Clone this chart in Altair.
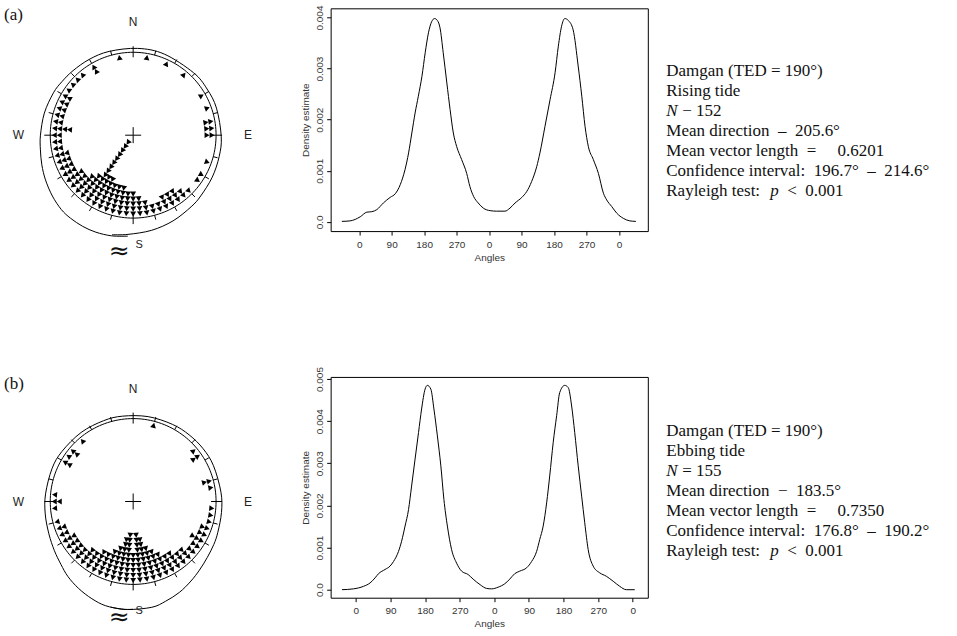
import altair as alt
import pandas as pd

# ---------------- data ----------------
# Linear density plots (angle in degrees, density estimate)
dens_angle_a = [-48, -25, 3, 21, 35, 49, 67, 86, 100, 114, 127, 137, 146, 155, 164, 174, 183, 192, 201, 209,
                217, 224, 233, 243, 252, 261, 270, 284, 298, 307, 317, 330, 344, 363, 381, 404, 418, 432, 451, 464,
                478, 492, 501, 515, 529, 543, 552, 561, 570, 580, 593, 607, 617, 626, 635, 649, 663, 677, 686, 700,
                714, 732, 750, 767]
dens_value_a = [0.00001, 0.00002, 0.0001, 0.00019, 0.0002, 0.00024, 0.00037, 0.00048, 0.00055, 0.00073,
                0.00102, 0.00135, 0.00174, 0.00213, 0.00246, 0.00285, 0.00331, 0.0037, 0.00392, 0.00398,
                0.00394, 0.0038, 0.00331, 0.00272, 0.0022, 0.00174, 0.00148, 0.00122, 0.00095, 0.00069,
                0.0005, 0.00037, 0.00027, 0.00022, 0.00021, 0.00021, 0.00027, 0.00037, 0.00048, 0.00059,
                0.00079, 0.00108, 0.00135, 0.00187, 0.00239, 0.00292, 0.00344, 0.00383, 0.00398, 0.00394,
                0.00376, 0.00305, 0.00246, 0.00187, 0.00148, 0.00122, 0.00095, 0.00056, 0.00043, 0.0003,
                0.00017, 0.00007, 0.00002, 0.00001]

dens_angle_b = [-36, -6, 20, 37, 50, 59, 76, 89, 98, 111, 119, 128, 137, 145, 154, 163, 171, 180, 186, 195,
                203, 212, 221, 229, 238, 249, 262, 275, 292, 305, 323, 340, 353, 370, 387, 400, 413, 426, 444, 457,
                470, 478, 487, 496, 504, 513, 522, 530, 543, 552, 561, 569, 578, 587, 595, 604, 617, 634, 651, 669,
                686, 703, 725]
dens_value_b = [0.0, 0.00002, 0.00008, 0.00016, 0.00028, 0.00038, 0.00048, 0.00056, 0.00067, 0.00091,
                0.00115, 0.00151, 0.0019, 0.00246, 0.0031, 0.00373, 0.00429, 0.00476, 0.00485, 0.00476,
                0.00429, 0.00365, 0.00294, 0.00214, 0.00151, 0.00095, 0.00063, 0.00044, 0.00036, 0.00025,
                0.00012, 0.00003, 0.00002, 0.00006, 0.00014, 0.00025, 0.00038, 0.00044, 0.00052, 0.00067,
                0.00091, 0.00119, 0.00151, 0.00206, 0.0027, 0.00349, 0.00413, 0.00468, 0.00485, 0.0048,
                0.00436, 0.00373, 0.00294, 0.00222, 0.00159, 0.00095, 0.00056, 0.0004, 0.00032, 0.0002,
                0.00008, 0.0, 0.0]

# Stacked circular observations: direction bin (deg clockwise from N) and count
bin_angle_a = [10, 25, 40, 60, 70, 80, 85, 90, 110, 120, 125, 135, 140, 145, 150, 155, 160, 165, 170, 175,
               180, 185, 190, 195, 200, 205, 210, 215, 220, 225, 230, 235, 240, 245, 250, 255, 260, 265, 270,
               275, 280, 285, 290, 295, 300, 305, 310, 315, 320, 330, 350]
bin_count_a = [1, 1, 1, 1, 1, 2, 2, 2, 1, 1, 1, 1, 2, 3, 3, 3, 2, 2, 3, 4,
               5, 5, 6, 6, 6, 7, 7, 15, 6, 5, 4, 4, 3, 3, 3, 3, 2, 2, 2,
               4, 2, 2, 2, 2, 2, 1, 1, 1, 1, 2, 1]
bin_angle_b = [15, 50, 55, 75, 80, 95, 100, 105, 110, 115, 120, 125, 130, 135, 140, 145, 150, 155, 160, 165,
               170, 175, 180, 185, 190, 195, 200, 205, 210, 215, 220, 225, 230, 235, 240, 245, 250, 255, 265,
               270, 275, 300, 305, 310, 320]
bin_count_b = [1, 1, 2, 2, 1, 1, 1, 1, 2, 2, 3, 2, 2, 3, 3, 4, 4, 5, 6, 7,
               9, 10, 6, 10, 9, 7, 6, 5, 5, 4, 4, 3, 3, 3, 3, 2, 2, 1, 1,
               2, 1, 2, 1, 2, 1]

x_tick_values = [0, 90, 180, 270, 360, 450, 540, 630, 720]
y_ticks_a = [0.0, 0.001, 0.002, 0.003, 0.004]
y_ticks_b = [0.0, 0.001, 0.002, 0.003, 0.004, 0.005]
circle_tick_deg = list(range(0, 360, 15))
compass_text = ["N", "E", "W"]
compass_deg = [0, 90, 270]

NB, EN = "\u00a0", "\u2002"
stats_a = ["Damgan (TED = 190°)", "Rising tide", "",
           "Mean direction" + EN + "–" + EN + "205.6°",
           "Mean vector length" + EN + "=" + EN + EN + NB + "0.6201",
           "Confidence interval:" + EN + "196.7°" + EN + "–" + EN + "214.6°",
           "Rayleigh test:"]
n_rest_a = "−" + NB + "152"
stats_b = ["Damgan (TED = 190°)", "Ebbing tide", "",
           "Mean direction" + EN + "−" + EN + "183.5°",
           "Mean vector length" + EN + "=" + EN + EN + NB + "0.7350",
           "Confidence interval:" + EN + "176.8°" + EN + "–" + EN + "190.2°",
           "Rayleigh test:"]
n_rest_b = "=" + NB + "155"
p_rest = "<" + EN + "0.001"

# ---------------- styling ----------------
SANS = "Liberation Sans"
SERIF = "Liberation Serif"
R = 83          # circle radius (px)
STEP = 5        # stacking step (px)
FS = 17         # statistics text size
LINE = 20       # statistics line spacing


def circle_panel(tag, bin_angles, bin_counts, d_ang, d_val, center_from_top, height):
    width = 312.5
    cx = 133.3
    sx = alt.Scale(domain=[-cx, width - cx], nice=False, zero=False)
    sy = alt.Scale(domain=[center_from_top - height, center_from_top], nice=False, zero=False)

    def X(f):
        return alt.X(f + ":Q", scale=sx, axis=None)

    def Y(f):
        return alt.Y(f + ":Q", scale=sy, axis=None)

    rad = "datum.a*PI/180"

    ring = (alt.Chart(alt.sequence(0, 362, 2, as_="a"))
            .transform_calculate(x=f"{R}*sin({rad})")
            .transform_calculate(y=f"{R}*cos({rad})")
            .mark_line(color="black", strokeWidth=1)
            .encode(x=X("x"), y=Y("y"), order="a:Q"))

    ticks = (alt.Chart(pd.DataFrame({"a": circle_tick_deg}))
             .transform_calculate(r1="datum.a % 90 == 0 ? 78 : 83")
             .transform_calculate(r2="datum.a % 90 == 0 ? 89 : 87.5")
             .transform_calculate(x=f"datum.r1*sin({rad})")
             .transform_calculate(y=f"datum.r1*cos({rad})")
             .transform_calculate(x2=f"datum.r2*sin({rad})")
             .transform_calculate(y2=f"datum.r2*cos({rad})")
             .mark_rule(color="black", strokeWidth=1)
             .encode(x=X("x"), y=Y("y"), x2="x2:Q", y2="y2:Q"))

    cross = (alt.Chart(pd.DataFrame({"a": [0, 90, 180, 270]}))
             .transform_calculate(x="0")
             .transform_calculate(y="0")
             .transform_calculate(x2=f"8*sin({rad})")
             .transform_calculate(y2=f"8*cos({rad})")
             .mark_rule(color="black", strokeWidth=1)
             .encode(x=X("x"), y=Y("y"), x2="x2:Q", y2="y2:Q"))

    rows = [{"a": a, "k": k} for a, c in zip(bin_angles, bin_counts) for k in range(c)]
    pts = (alt.Chart(pd.DataFrame(rows))
           .transform_calculate(r=f"79 - {STEP}*datum.k")
           .transform_calculate(x=f"datum.r*sin({rad})")
           .transform_calculate(y=f"datum.r*cos({rad})")
           .mark_point(shape="triangle-up", filled=True, color="black", size=34, opacity=1)
           .encode(x=X("x"), y=Y("y"), angle=alt.Angle("a:Q", scale=None)))

    dens = (alt.Chart(pd.DataFrame({"a": d_ang, "density": d_val}))
            .transform_filter("datum.a >= 180 && datum.a <= 560")
            .transform_calculate(r="86 + 4600*datum.density")
            .transform_calculate(x=f"datum.r*sin({rad})")
            .transform_calculate(y=f"datum.r*cos({rad})")
            .mark_line(color="black", strokeWidth=1, interpolate="cardinal")
            .encode(x=X("x"), y=Y("y"), order="a:Q"))

    labs = (alt.Chart(pd.DataFrame({"t": compass_text, "a": compass_deg}))
            .transform_calculate(x=f"115*sin({rad})")
            .transform_calculate(y=f"113*cos({rad})")
            .mark_text(font=SANS, fontSize=12, color="#222")
            .encode(x=X("x"), y=Y("y"), text="t:N"))

    s_lab = (alt.Chart(pd.DataFrame({"t": ["S"], "a": [180]}))
             .transform_calculate(x=f"110*sin({rad})")
             .transform_calculate(y=f"110*cos({rad})")
             .mark_text(font=SANS, fontSize=11, color="#222", dx=6)
             .encode(x=X("x"), y=Y("y"), text="t:N"))
    wave = (alt.Chart(pd.DataFrame({"t": ["≈"], "a": [180]}))
            .transform_calculate(x=f"116*sin({rad})")
            .transform_calculate(y=f"116*cos({rad})")
            .mark_text(font="DejaVu Sans", fontSize=25, color="#111", dx=-14)
            .encode(x=X("x"), y=Y("y"), text="t:N"))

    tag_t = (alt.Chart(pd.DataFrame({"t": [tag]}))
             .mark_text(font=SERIF, fontSize=17, align="left", baseline="middle", color="#111")
             .encode(x=alt.value(4), y=alt.value(7), text="t:N"))

    return alt.layer(dens, ring, ticks, cross, pts, labs, s_lab, wave, tag_t).properties(
        width=width, height=height)


def density_panel(d_ang, d_val, xdom, ydom, yticks, width, height):
    df = pd.DataFrame({"angle": d_ang, "density": d_val})
    xaxis = alt.Axis(values=x_tick_values, labelExpr="'' + (datum.value % 360)", title="Angles",
                     domain=False, grid=False, tickSize=4, tickColor="black", labelFont=SANS,
                     labelFontSize=10, labelColor="#333", labelPadding=4, titleFont=SANS,
                     titleFontSize=10, titleFontWeight="normal", titleColor="#333", titlePadding=3,
                     labelFlush=False, labelOverlap=False)
    yaxis = alt.Axis(values=yticks,
                     labelExpr="datum.value == 0 ? '0.0' : format(datum.value, '.3f')",
                     title="Density estimate", domain=False, grid=False, tickSize=4, tickColor="black",
                     labelFont=SANS, labelFontSize=10, labelColor="#333", labelPadding=2,
                     labelAngle=270, labelAlign="center", labelBaseline="bottom",
                     titleFont=SANS, titleFontSize=10, titleFontWeight="normal", titleColor="#333",
                     titlePadding=4, labelFlush=False, labelOverlap=False)
    return (alt.Chart(df)
            .mark_line(color="black", strokeWidth=1, interpolate="monotone")
            .encode(x=alt.X("angle:Q", scale=alt.Scale(domain=xdom, nice=False, zero=False), axis=xaxis),
                    y=alt.Y("density:Q", scale=alt.Scale(domain=ydom, nice=False, zero=False), axis=yaxis))
            .properties(width=width, height=height,
                        view=alt.ViewBackground(stroke="black", strokeWidth=1)))


def text_panel(lines, n_rest, first_line_from_top, height):
    d0 = -first_line_from_top / LINE
    sy = alt.Scale(domain=[d0, d0 + height / LINE], reverse=True, nice=False, zero=False)
    yenc = alt.Y("line:Q", scale=sy, axis=None)
    common = dict(font=SERIF, fontSize=FS, align="left", baseline="middle", color="#111")
    main = (alt.Chart(pd.DataFrame({"line": list(range(len(lines))), "txt": lines}))
            .mark_text(**common).encode(x=alt.value(0), y=yenc, text="txt:N"))
    n_it = (alt.Chart(pd.DataFrame({"line": [2], "txt": ["N"]}))
            .mark_text(fontStyle="italic", **common).encode(x=alt.value(0), y=yenc, text="txt:N"))
    n_rs = (alt.Chart(pd.DataFrame({"line": [2], "txt": [n_rest]}))
            .mark_text(dx=16, **common).encode(x=alt.value(0), y=yenc, text="txt:N"))
    p_it = (alt.Chart(pd.DataFrame({"line": [6], "txt": ["p"]}))
            .mark_text(fontStyle="italic", dx=104, **common).encode(x=alt.value(0), y=yenc, text="txt:N"))
    p_rs = (alt.Chart(pd.DataFrame({"line": [6], "txt": [p_rest]}))
            .mark_text(dx=121, **common).encode(x=alt.value(0), y=yenc, text="txt:N"))
    return alt.layer(main, n_it, n_rs, p_it, p_rs).properties(width=291, height=height)


circ_a = circle_panel("(a)", bin_angle_a, bin_count_a, dens_angle_a, dens_value_a, 127, 250)
circ_b = circle_panel("(b)", bin_angle_b, bin_count_b, dens_angle_b, dens_value_b, 124.7, 221)
den_a = density_panel(dens_angle_a, dens_value_a, [-79, 800], [-0.00018, 0.00418], y_ticks_a, 317.5, 223)
den_b = density_panel(dens_angle_b, dens_value_b, [-65.4, 759], [-0.00019, 0.00505], y_ticks_b, 317.5, 221)
txt_a = text_panel(stats_a, n_rest_a, 63, 223)
txt_b = text_panel(stats_b, n_rest_b, 54, 221)

chart = (alt.concat(circ_a, den_a, txt_a, circ_b, den_b, txt_b, columns=3,
                    spacing={"row": 119, "column": 18}, bounds="flush", align="each")
         .properties(padding={"left": 0, "top": 4, "right": 0, "bottom": 0}, background="white")
         .configure_view(stroke=None))

chart.save("out.html", embed_options={"renderer": "svg", "actions": False})
